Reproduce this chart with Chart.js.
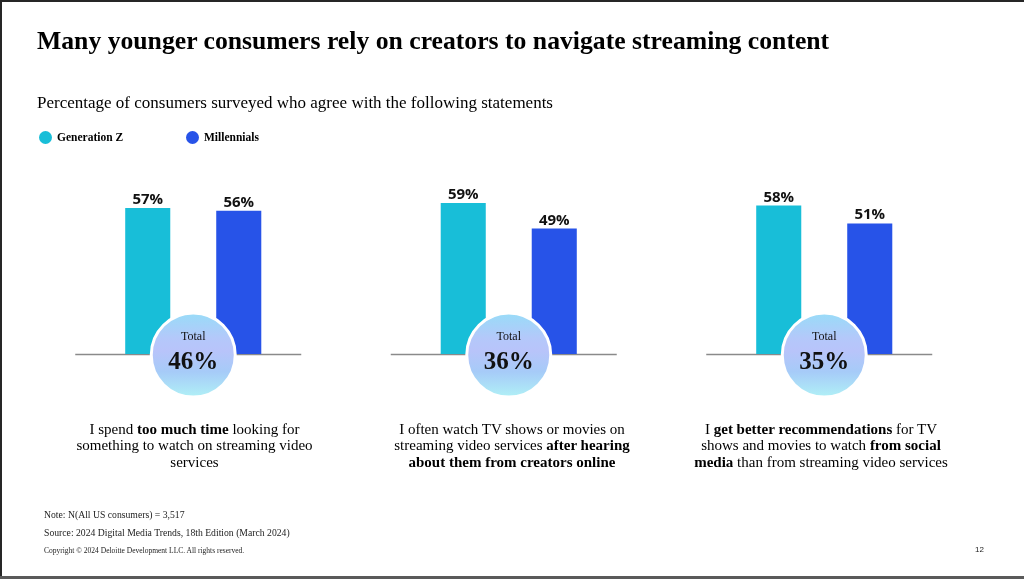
<!DOCTYPE html>
<html>
<head>
<meta charset="utf-8">
<script src="https://cdn.jsdelivr.net/npm/chart.js@4.4.1/dist/chart.umd.min.js"></script>
<style>
  html, body { margin:0; padding:0; background:#fff; }
  #page { position:relative; width:1024px; height:579px; overflow:hidden; background:#fff;
          font-family:"Liberation Serif","Times New Roman",serif; color:#000; }
  #frameTop { position:absolute; left:0; top:0; width:1024px; height:2px; background:#262626; }
  #frameLeft { position:absolute; left:0; top:0; width:2px; height:579px; background:#262626; }
  #frameBottom { position:absolute; left:0; top:576px; width:1024px; height:3px; background:#5a5a5a; }
  #title { position:absolute; left:37px; top:26px; font-size:25.7px; line-height:30px; font-weight:bold; white-space:nowrap; }
  #subtitle { position:absolute; left:37px; top:93px; font-size:17px; line-height:20px; white-space:nowrap; }
  .leg { position:absolute; top:130px; font-size:11.5px; line-height:14px; font-weight:bold; white-space:nowrap; }
  .dot { position:absolute; width:13px; height:13px; border-radius:50%; }
  .stmt { position:absolute; top:420.5px; width:300px; text-align:center; font-size:15px; line-height:16.6px; }
  .foot { position:absolute; left:44px; white-space:nowrap; color:#222; }
  #chartWrap { position:absolute; left:0; top:0; width:1024px; height:579px; }
</style>
</head>
<body>
<div id="page">
  <div id="chartWrap"><canvas id="c" width="1024" height="579"></canvas></div>
  <div id="frameTop"></div><div id="frameLeft"></div><div id="frameBottom"></div>
  <div id="title">Many younger consumers rely on creators to navigate streaming content</div>
  <div id="subtitle">Percentage of consumers surveyed who agree with the following statements</div>
  <div id="legend"></div>
  <div id="stmts"></div>
  <div class="foot" style="top:509px;font-size:9.7px;line-height:12px;">Note: N(All US consumers) = 3,517</div>
  <div class="foot" style="top:527px;font-size:9.7px;line-height:12px;">Source: 2024 Digital Media Trends, 18th Edition (March 2024)</div>
  <div class="foot" style="top:546px;font-size:7.5px;line-height:10px;">Copyright © 2024 Deloitte Development LLC. All rights reserved.</div>
  <div style="position:absolute;left:975px;top:545px;font-family:'Liberation Sans',Arial,sans-serif;font-size:8px;line-height:10px;color:#222;">12</div>
</div>
<script>
// ---- data ----
const categories = ["Too much time looking", "After hearing from creators", "Better recs from social media"];
const seriesNames = ["Generation Z", "Millennials"];
const genZ = [57, 59, 58];
const millennials = [56, 49, 51];
const totals = [46, 36, 35];
const statements = [
  'I spend <b>too much time</b> looking for<br>something to watch on streaming video<br>services',
  'I often watch TV shows or movies on<br>streaming video services <b>after hearing<br>about them from creators online</b>',
  'I <b>get better recommendations</b> for TV<br>shows and movies to watch <b>from social<br>media</b> than from streaming video services'
];
const colors = ["#18BED8", "#2753E8"];

// ---- legend (HTML) ----
const legendEl = document.getElementById('legend');
const legPos = [39, 186];
seriesNames.forEach((n, i) => {
  const d = document.createElement('div');
  d.className = 'dot';
  d.style.left = legPos[i] + 'px';
  d.style.top = '130.5px';
  d.style.background = colors[i];
  legendEl.appendChild(d);
  const t = document.createElement('div');
  t.className = 'leg';
  t.style.left = (legPos[i] + 18) + 'px';
  t.textContent = n;
  legendEl.appendChild(t);
});

const decor = {
  id: 'decor',
  beforeDatasetsDraw(chart) {
    const ctx = chart.ctx, xs = chart.scales.x, ys = chart.scales.y;
    const y0 = ys.getPixelForValue(0);
    ctx.save();
    ctx.strokeStyle = '#8a8a8a';
    ctx.lineWidth = 1.5;
    categories.forEach((c, i) => {
      const cx = xs.getPixelForValue(i) - 5;
      ctx.beginPath();
      ctx.moveTo(cx - 113, y0 + 0.5);
      ctx.lineTo(cx + 113, y0 + 0.5);
      ctx.stroke();
    });
    ctx.restore();
  },
  afterDatasetsDraw(chart) {
    const ctx = chart.ctx, xs = chart.scales.x, ys = chart.scales.y;
    const y0 = ys.getPixelForValue(0);
    ctx.save();
    // value labels
    ctx.font = 'bold 15px "Open Sans", "Liberation Sans", sans-serif';
    ctx.fillStyle = '#111';
    ctx.textAlign = 'center';
    ctx.textBaseline = 'alphabetic';
    chart.data.datasets.forEach((ds, di) => {
      const meta = chart.getDatasetMeta(di);
      meta.data.forEach((bar, i) => {
        ctx.fillText(ds.data[i] + '%', bar.x, bar.y - 4);
      });
    });
    // total circles
    totals.forEach((v, i) => {
      const cx = xs.getPixelForValue(i);
      const cy = y0 + 1;
      const r = 42;
      const g = ctx.createLinearGradient(0, cy - r, 0, cy + r);
      g.addColorStop(0, '#98dcf8');
      g.addColorStop(0.3, '#b4c8fa');
      g.addColorStop(0.45, '#b8c4fa');
      g.addColorStop(0.7, '#a6cbf8');
      g.addColorStop(1, '#b0f0f6');
      ctx.beginPath();
      ctx.arc(cx, cy, r, 0, Math.PI * 2);
      ctx.fillStyle = g;
      ctx.fill();
      ctx.lineWidth = 3;
      ctx.strokeStyle = '#ffffff';
      ctx.stroke();
      ctx.fillStyle = '#111';
      ctx.font = '12px "Liberation Serif", serif';
      ctx.fillText('Total', cx, cy - 15);
      ctx.font = 'bold 25px "Liberation Serif", serif';
      ctx.fillText(v + '%', cx, cy + 14);
    });
    ctx.restore();
  }
};

new Chart(document.getElementById('c'), {
  type: 'bar',
  data: {
    labels: categories,
    datasets: [
      { label: seriesNames[0], data: genZ, backgroundColor: colors[0], borderWidth: 0 },
      { label: seriesNames[1], data: millennials, backgroundColor: colors[1], borderWidth: 0 }
    ]
  },
  options: {
    responsive: false,
    animation: false,
    devicePixelRatio: 1,
    categoryPercentage: 0.577,
    barPercentage: 0.495,
    layout: { padding: { left: 35.5, right: 42, top: 149.2, bottom: 225 } },
    plugins: { legend: { display: false }, tooltip: { enabled: false }, title: { display: false } },
    scales: {
      x: { display: false, offset: true },
      y: { display: false, min: 0, max: 80 }
    }
  },
  plugins: [decor]
});

// statements
const stEl = document.getElementById('stmts');
const stCenters = [194.5, 512, 821];
statements.forEach((s, i) => {
  const d = document.createElement('div');
  d.className = 'stmt';
  d.style.left = (stCenters[i] - 150) + 'px';
  d.innerHTML = s;
  stEl.appendChild(d);
});
</script>
</body>
</html>
